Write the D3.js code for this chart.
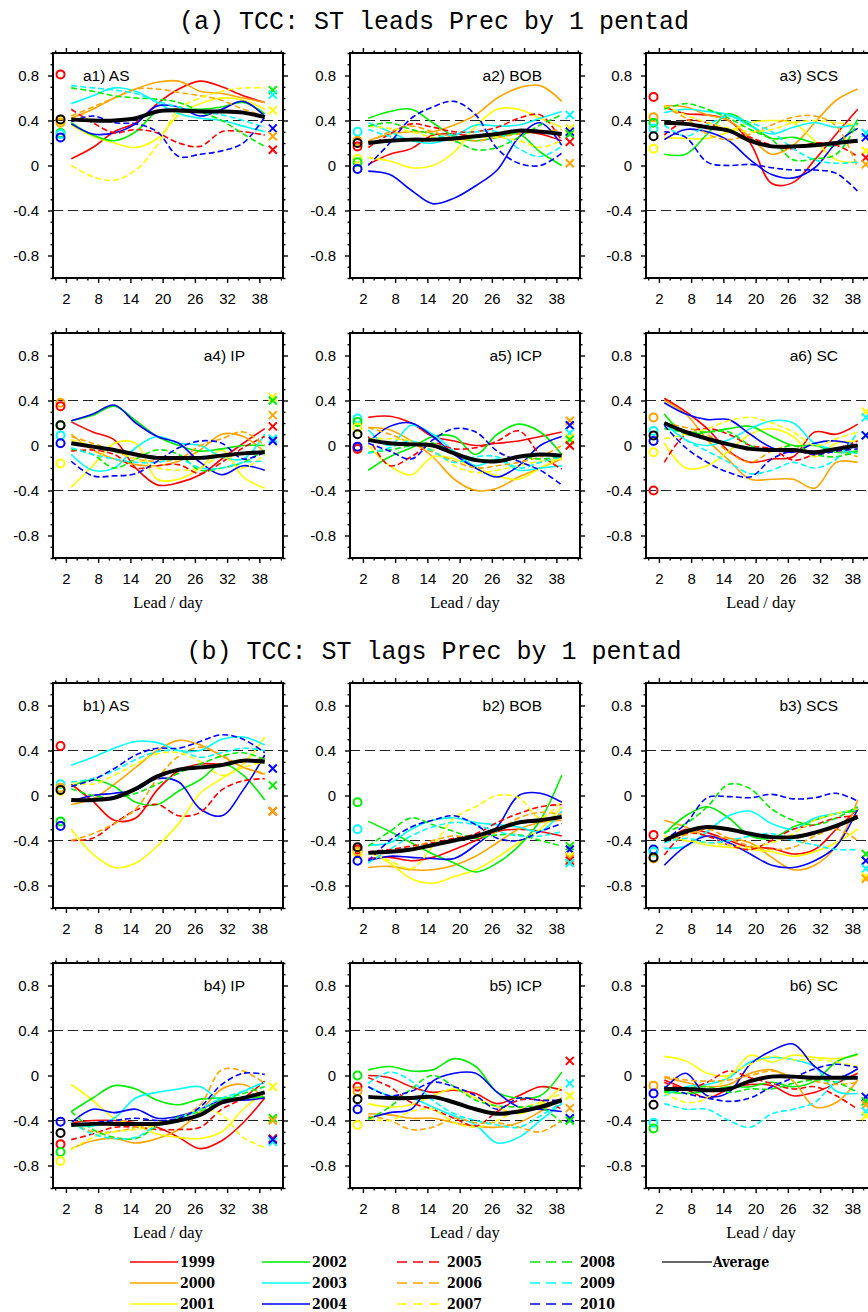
<!DOCTYPE html>
<html>
<head>
<meta charset="utf-8">
<script src="https://cdn.jsdelivr.net/npm/d3@7"></script>
<style>
  body { margin: 0; background: #fff; }
  svg { display: block; }
</style>
</head>
<body>
<svg id="chart" width="868" height="1312"></svg>
<script>
// lead days sampled for every curve
const days = [3, 7, 11, 15, 19, 23, 27, 31, 35, 39];
const years = ['1999', '2000', '2001', '2002', '2003', '2004', '2005', '2006', '2007', '2008', '2009', '2010'];
const hues = ['red', 'orange', 'yellow', 'green', 'cyan', 'blue', 'red', 'orange', 'yellow', 'green', 'cyan', 'blue'];
const circleDay = 1, crossDay = 40.5;

// ---- (a) ST leads Prec ----
const a1 = [
  [0.06, 0.16, 0.3, 0.38, 0.55, 0.68, 0.75, 0.7, 0.62, 0.56],
  [0.42, 0.5, 0.6, 0.68, 0.74, 0.75, 0.66, 0.64, 0.6, 0.56],
  [0.36, 0.26, 0.2, 0.16, 0.24, 0.45, 0.55, 0.6, 0.58, 0.5],
  [0.38, 0.27, 0.22, 0.3, 0.48, 0.5, 0.5, 0.52, 0.56, 0.46],
  [0.55, 0.62, 0.69, 0.66, 0.56, 0.46, 0.42, 0.4, 0.35, 0.3],
  [0.37, 0.28, 0.29, 0.37, 0.53, 0.52, 0.44, 0.5, 0.57, 0.44],
  [0.5, 0.38, 0.29, 0.32, 0.29, 0.2, 0.17, 0.3, 0.3, 0.27],
  [0.44, 0.52, 0.6, 0.68, 0.68, 0.65, 0.62, 0.58, 0.5, 0.44],
  [0.0, -0.1, -0.13, -0.04, 0.18, 0.5, 0.6, 0.66, 0.69, 0.69],
  [0.69, 0.66, 0.62, 0.6, 0.59, 0.56, 0.48, 0.4, 0.28, 0.17],
  [0.71, 0.69, 0.67, 0.64, 0.57, 0.52, 0.48, 0.45, 0.4, 0.34],
  [0.39, 0.44, 0.38, 0.37, 0.3, 0.08, 0.1, 0.13, 0.2, 0.43]
];
const a1Avg = [0.41, 0.4, 0.4, 0.42, 0.48, 0.49, 0.48, 0.48, 0.47, 0.43];
const a1Circles = [['red', 0.81], ['yellow', 0.4], ['orange', 0.38], ['green', 0.29], ['cyan', 0.28], ['blue', 0.25], ['black', 0.41]];
const a1Crosses = [['green', 0.67], ['cyan', 0.63], ['yellow', 0.49], ['blue', 0.33], ['orange', 0.26], ['red', 0.14]];

const a2 = [
  [0.01, 0.1, 0.15, 0.27, 0.28, 0.26, 0.28, 0.3, 0.28, 0.22],
  [0.22, 0.28, 0.3, 0.3, 0.36, 0.45, 0.6, 0.69, 0.71, 0.57],
  [0.07, 0.04, -0.02, 0.0, 0.12, 0.35, 0.5, 0.5, 0.42, 0.34],
  [0.42, 0.48, 0.5, 0.38, 0.26, 0.22, 0.25, 0.28, 0.12, 0.0],
  [0.38, 0.3, 0.22, 0.2, 0.26, 0.36, 0.35, 0.36, 0.42, 0.48],
  [-0.05, -0.08, -0.22, -0.34, -0.29, -0.18, -0.04, 0.25, 0.38, 0.18],
  [0.16, 0.28, 0.37, 0.34, 0.3, 0.3, 0.34, 0.42, 0.45, 0.22],
  [0.2, 0.3, 0.35, 0.3, 0.25, 0.22, 0.25, 0.28, 0.3, 0.32],
  [0.35, 0.33, 0.3, 0.25, 0.22, 0.25, 0.25, 0.22, 0.16, 0.22],
  [0.35, 0.38, 0.32, 0.28, 0.22, 0.14, 0.16, 0.25, 0.36, 0.45],
  [0.32, 0.26, 0.22, 0.24, 0.28, 0.3, 0.3, 0.15, 0.08, 0.17],
  [0.0, 0.2, 0.42, 0.52, 0.57, 0.45, 0.15, 0.02, 0.0, 0.11]
];
const a2Avg = [0.2, 0.22, 0.23, 0.23, 0.24, 0.26, 0.28, 0.31, 0.3, 0.28];
const a2Circles = [['cyan', 0.3], ['orange', 0.22], ['red', 0.17], ['yellow', 0.06], ['green', 0.03], ['blue', -0.03], ['black', 0.2]];
const a2Crosses = [['cyan', 0.45], ['yellow', 0.33], ['blue', 0.3], ['green', 0.28], ['red', 0.21], ['orange', 0.02]];

const a3 = [
  [0.52, 0.46, 0.45, 0.4, 0.2, -0.16, -0.15, 0.05, 0.28, 0.5],
  [0.53, 0.52, 0.45, 0.4, 0.25, 0.1, 0.18, 0.38, 0.58, 0.68],
  [0.25, 0.24, 0.24, 0.3, 0.38, 0.4, 0.38, 0.22, 0.05, 0.03],
  [0.1, 0.1, 0.28, 0.46, 0.36, 0.24, 0.25, 0.2, 0.18, 0.41],
  [0.47, 0.5, 0.48, 0.45, 0.35, 0.28, 0.34, 0.38, 0.34, 0.37],
  [0.23, 0.32, 0.3, 0.22, 0.05, -0.08, -0.11, -0.02, 0.2, 0.33],
  [0.27, 0.4, 0.38, 0.3, 0.25, 0.18, 0.15, 0.2, 0.18, 0.08],
  [0.52, 0.42, 0.28, 0.23, 0.28, 0.36, 0.43, 0.44, 0.35, -0.02],
  [0.53, 0.45, 0.38, 0.33, 0.3, 0.32, 0.38, 0.4, 0.38, 0.36],
  [0.5, 0.55, 0.5, 0.42, 0.32, 0.23, 0.05, 0.06, 0.1, 0.38],
  [0.36, 0.26, 0.36, 0.44, 0.38, 0.3, 0.15, 0.05, 0.02, 0.03],
  [0.3, 0.25, 0.03, 0.0, 0.01, -0.02, -0.04, -0.04, -0.07, -0.23]
];
const a3Avg = [0.38, 0.37, 0.34, 0.31, 0.22, 0.17, 0.17, 0.18, 0.2, 0.22];
const a3Circles = [['red', 0.61], ['orange', 0.43], ['green', 0.38], ['cyan', 0.33], ['yellow', 0.15], ['black', 0.26]];
const a3Crosses = [['cyan', 0.29], ['blue', 0.25], ['yellow', 0.13], ['red', 0.07], ['orange', 0.01]];

const a4 = [
  [0.21, 0.12, 0.05, -0.2, -0.35, -0.33, -0.26, -0.12, 0.02, 0.15],
  [0.1, -0.04, -0.12, -0.17, -0.18, -0.14, -0.04, 0.1, 0.08, -0.06],
  [-0.37, -0.18, 0.02, 0.02, -0.3, -0.3, -0.2, -0.04, -0.28, -0.38],
  [0.22, 0.27, 0.35, 0.22, 0.08, 0.0, -0.05, -0.03, 0.0, 0.0],
  [-0.08, -0.22, -0.2, -0.02, 0.08, 0.02, 0.0, -0.1, -0.12, 0.1],
  [0.22, 0.28, 0.36, 0.2, 0.08, 0.02, -0.15, -0.26, -0.18, -0.22],
  [-0.05, -0.04, -0.08, -0.2, -0.18, -0.17, -0.25, -0.15, -0.02, 0.08],
  [0.08, 0.02, -0.05, -0.12, -0.14, -0.12, 0.0, 0.06, 0.12, 0.0],
  [0.05, 0.0, -0.05, -0.12, -0.2, -0.22, -0.2, -0.1, -0.2, -0.08],
  [-0.03, -0.08, -0.2, -0.12, -0.04, -0.08, -0.22, -0.2, -0.15, -0.04],
  [-0.02, -0.08, -0.12, -0.15, -0.15, -0.12, -0.2, -0.2, -0.15, -0.14],
  [-0.14, -0.27, -0.27, -0.25, -0.14, -0.02, 0.04, 0.02, -0.12, -0.06]
];
const a4Avg = [0.02, -0.01, -0.04, -0.08, -0.11, -0.11, -0.11, -0.09, -0.07, -0.06];
const a4Circles = [['orange', 0.38], ['red', 0.35], ['green', 0.18], ['cyan', 0.09], ['blue', 0.02], ['yellow', -0.16], ['black', 0.18]];
const a4Crosses = [['yellow', 0.43], ['green', 0.4], ['orange', 0.27], ['red', 0.17], ['cyan', 0.06], ['blue', 0.04]];

const a5 = [
  [0.25, 0.26, 0.2, 0.08, 0.04, 0.0, 0.02, 0.04, 0.08, 0.12],
  [0.16, 0.14, 0.04, -0.1, -0.3, -0.4, -0.38, -0.28, -0.2, -0.12],
  [0.0, -0.18, -0.26, -0.1, -0.12, -0.2, -0.27, -0.3, -0.2, -0.1],
  [-0.22, -0.1, -0.02, 0.08, 0.08, -0.08, 0.1, 0.19, 0.12, -0.08],
  [0.14, 0.0, 0.18, 0.1, -0.05, -0.18, -0.12, -0.22, -0.2, -0.18],
  [0.03, 0.17, 0.2, 0.08, -0.08, -0.2, -0.28, -0.18, 0.0, 0.08],
  [0.08, -0.18, -0.1, 0.02, -0.03, -0.02, 0.04, 0.13, -0.08, -0.21],
  [0.16, 0.1, 0.02, -0.06, -0.14, -0.2, -0.18, -0.15, -0.1, 0.0],
  [0.06, 0.06, 0.04, -0.04, -0.18, -0.24, -0.22, -0.18, -0.14, -0.12],
  [-0.06, -0.04, 0.0, 0.02, -0.06, -0.12, -0.13, -0.1, -0.12, -0.1],
  [-0.07, -0.02, 0.04, -0.05, -0.15, -0.1, -0.1, -0.2, -0.15, -0.1],
  [0.02, -0.05, -0.12, 0.05, 0.15, 0.12, -0.05, -0.14, -0.22, -0.35]
];
const a5Avg = [0.05, 0.02, 0.01, 0.0, -0.07, -0.13, -0.14, -0.1, -0.08, -0.09];
const a5Circles = [['cyan', 0.24], ['green', 0.21], ['yellow', 0.16], ['orange', -0.02], ['red', -0.03], ['blue', -0.01], ['black', 0.1]];
const a5Crosses = [['orange', 0.22], ['blue', 0.18], ['cyan', 0.11], ['yellow', 0.07], ['green', 0.05], ['red', 0.0]];

const a6 = [
  [0.42, 0.3, 0.15, -0.05, -0.15, -0.12, -0.1, 0.12, 0.1, 0.19],
  [0.4, 0.28, 0.05, -0.13, -0.3, -0.3, -0.3, -0.38, -0.15, -0.15],
  [0.02, -0.2, -0.18, -0.05, 0.1, 0.15, 0.08, -0.1, 0.02, 0.04],
  [0.28, 0.1, 0.12, 0.15, 0.17, 0.08, 0.0, 0.0, -0.06, -0.05],
  [0.2, 0.05, 0.0, 0.05, 0.15, 0.22, 0.2, 0.02, -0.04, -0.07],
  [0.38, 0.28, 0.23, 0.23, 0.1, -0.02, -0.06, 0.02, 0.04, 0.0],
  [-0.15, 0.1, 0.15, 0.1, 0.0, -0.03, -0.13, -0.08, -0.03, 0.04],
  [0.2, 0.16, 0.1, -0.06, -0.15, -0.05, 0.0, -0.08, -0.05, -0.1],
  [0.06, 0.1, 0.15, 0.22, 0.25, 0.2, 0.12, 0.0, 0.06, 0.12],
  [0.15, 0.12, 0.12, 0.12, 0.0, -0.05, 0.0, -0.08, -0.1, -0.05],
  [0.2, 0.05, -0.05, -0.15, -0.25, -0.22, -0.15, -0.2, -0.12, 0.12],
  [0.18, -0.02, -0.15, -0.24, -0.28, -0.12, -0.05, -0.08, -0.05, -0.03]
];
const a6Avg = [0.2, 0.12, 0.06, 0.01, -0.03, -0.04, -0.04, -0.06, -0.03, 0.0];
const a6Circles = [['orange', 0.25], ['cyan', 0.13], ['blue', 0.04], ['yellow', -0.06], ['red', -0.4], ['black', 0.09]];
const a6Crosses = [['yellow', 0.3], ['cyan', 0.25], ['green', 0.09], ['blue', 0.09]];

// ---- (b) ST lags Prec ----
const b1 = [
  [0.1, -0.05, -0.22, -0.2, 0.05, 0.22, 0.28, 0.28, 0.3, 0.33],
  [-0.08, -0.03, 0.1, 0.25, 0.4, 0.49, 0.45, 0.35, 0.25, 0.19],
  [-0.3, -0.52, -0.64, -0.6, -0.45, -0.25, 0.02, 0.15, 0.28, 0.52],
  [0.08, 0.14, 0.08, -0.06, -0.08, 0.04, 0.14, 0.28, 0.18, -0.04],
  [0.27, 0.34, 0.42, 0.48, 0.47, 0.4, 0.4, 0.5, 0.52, 0.45],
  [-0.05, 0.0, 0.02, 0.05, 0.15, 0.12, -0.12, -0.18, 0.05, 0.36],
  [-0.4, -0.38, -0.25, -0.13, -0.08, -0.18, -0.15, 0.05, 0.13, 0.15],
  [-0.4, -0.34, -0.25, -0.12, 0.15, 0.35, 0.43, 0.36, 0.25, 0.2],
  [0.12, 0.1, 0.18, 0.28, 0.37, 0.38, 0.3, 0.18, 0.25, 0.3],
  [0.06, 0.0, -0.02, 0.02, 0.1, 0.2, 0.28, 0.35, 0.38, 0.32],
  [0.12, 0.15, 0.22, 0.32, 0.39, 0.4, 0.34, 0.38, 0.42, 0.4],
  [0.08, 0.14, 0.24, 0.36, 0.42, 0.42, 0.48, 0.54, 0.5, 0.38]
];
const b1Avg = [-0.04, -0.04, -0.02, 0.06, 0.17, 0.23, 0.25, 0.27, 0.31, 0.3];
const b1Circles = [['red', 0.44], ['cyan', 0.1], ['orange', 0.07], ['yellow', 0.04], ['green', -0.23], ['blue', -0.27], ['black', 0.05]];
const b1Crosses = [['blue', 0.24], ['green', 0.09], ['red', -0.14], ['orange', -0.14]];

const b2 = [
  [-0.56, -0.55, -0.58, -0.55, -0.48, -0.4, -0.32, -0.3, -0.32, -0.36],
  [-0.64, -0.63, -0.66, -0.66, -0.62, -0.54, -0.42, -0.3, -0.24, -0.22],
  [-0.5, -0.6, -0.74, -0.78, -0.72, -0.66, -0.55, -0.42, -0.3, -0.1],
  [-0.23, -0.32, -0.42, -0.52, -0.6, -0.68, -0.6, -0.45, -0.22, 0.18],
  [-0.44, -0.42, -0.3, -0.22, -0.2, -0.24, -0.26, -0.28, -0.32, -0.14],
  [-0.58, -0.54, -0.55, -0.56, -0.56, -0.44, -0.28, 0.0, 0.02, -0.06],
  [-0.5, -0.48, -0.45, -0.42, -0.38, -0.34, -0.24, -0.16, -0.1, -0.08],
  [-0.5, -0.5, -0.47, -0.4, -0.36, -0.38, -0.32, -0.2, -0.15, -0.17],
  [-0.5, -0.58, -0.65, -0.45, -0.2, -0.1, 0.0, -0.02, -0.2, -0.05],
  [-0.45, -0.32, -0.2, -0.26, -0.32, -0.38, -0.35, -0.35, -0.4, -0.45],
  [-0.6, -0.48, -0.36, -0.28, -0.24, -0.26, -0.32, -0.36, -0.36, -0.32],
  [-0.58, -0.4, -0.28, -0.22, -0.18, -0.26, -0.38, -0.4, -0.32, -0.25]
];
const b2Avg = [-0.51, -0.5, -0.48, -0.44, -0.4, -0.36, -0.3, -0.24, -0.22, -0.19];
const b2Circles = [['green', -0.06], ['cyan', -0.3], ['red', -0.48], ['orange', -0.5], ['yellow', -0.52], ['blue', -0.58], ['black', -0.46]];
const b2Crosses = [['green', -0.45], ['blue', -0.48], ['yellow', -0.54], ['orange', -0.56], ['red', -0.58], ['cyan', -0.6]];

const b3 = [
  [-0.42, -0.3, -0.33, -0.4, -0.46, -0.47, -0.52, -0.48, -0.3, -0.12],
  [-0.22, -0.28, -0.36, -0.38, -0.42, -0.55, -0.66, -0.62, -0.45, -0.04],
  [-0.36, -0.4, -0.44, -0.46, -0.48, -0.5, -0.54, -0.5, -0.42, -0.3],
  [-0.34, -0.18, -0.1, -0.2, -0.36, -0.38, -0.28, -0.22, -0.16, -0.14],
  [-0.47, -0.45, -0.32, -0.18, -0.14, -0.25, -0.3, -0.2, -0.16, -0.12],
  [-0.62, -0.45, -0.36, -0.42, -0.52, -0.62, -0.64, -0.58, -0.45, -0.12],
  [-0.53, -0.34, -0.36, -0.44, -0.48, -0.4, -0.3, -0.26, -0.2, -0.18],
  [-0.4, -0.35, -0.3, -0.38, -0.45, -0.48, -0.46, -0.36, -0.3, -0.4],
  [-0.38, -0.4, -0.42, -0.44, -0.46, -0.42, -0.34, -0.22, -0.16, -0.12],
  [-0.33, -0.25, -0.1, 0.1, 0.06, -0.12, -0.22, -0.26, -0.2, -0.1],
  [-0.42, -0.38, -0.42, -0.4, -0.36, -0.34, -0.4, -0.44, -0.48, -0.48],
  [-0.4, -0.25, -0.02, -0.01, -0.02, 0.01, -0.03, -0.02, 0.02, -0.05]
];
const b3Avg = [-0.4, -0.32, -0.28, -0.3, -0.34, -0.37, -0.37, -0.33, -0.27, -0.19];
const b3Circles = [['red', -0.35], ['blue', -0.48], ['cyan', -0.5], ['orange', -0.56], ['black', -0.55]];
const b3Crosses = [['green', -0.52], ['blue', -0.58], ['cyan', -0.65], ['yellow', -0.72], ['orange', -0.74]];

const b4 = [
  [-0.42, -0.4, -0.4, -0.42, -0.46, -0.55, -0.65, -0.58, -0.42, -0.2],
  [-0.65, -0.58, -0.56, -0.6, -0.56, -0.48, -0.32, -0.12, -0.08, -0.2],
  [-0.08, -0.22, -0.38, -0.44, -0.52, -0.55, -0.56, -0.5, -0.3, -0.15],
  [-0.32, -0.2, -0.09, -0.12, -0.22, -0.26, -0.21, -0.2, -0.2, -0.19],
  [-0.44, -0.45, -0.38, -0.2, -0.15, -0.12, -0.1, -0.22, -0.14, -0.06],
  [-0.42, -0.3, -0.33, -0.3, -0.38, -0.36, -0.3, -0.22, -0.22, -0.2],
  [-0.57, -0.52, -0.46, -0.46, -0.48, -0.48, -0.46, -0.3, -0.2, -0.05],
  [-0.42, -0.5, -0.5, -0.46, -0.42, -0.38, -0.26, 0.05, 0.04, -0.07],
  [-0.66, -0.55, -0.5, -0.48, -0.44, -0.38, -0.3, -0.35, -0.55, -0.64],
  [-0.32, -0.48, -0.55, -0.56, -0.45, -0.37, -0.32, -0.22, -0.16, -0.1],
  [-0.42, -0.52, -0.56, -0.55, -0.44, -0.38, -0.3, -0.2, -0.14, -0.06],
  [-0.44, -0.42, -0.4, -0.38, -0.4, -0.38, -0.28, -0.08, 0.02, 0.01]
];
const b4Avg = [-0.44, -0.43, -0.43, -0.43, -0.43, -0.4, -0.35, -0.24, -0.2, -0.15];
const b4Circles = [['blue', -0.41], ['red', -0.61], ['green', -0.68], ['yellow', -0.76], ['black', -0.51]];
const b4Crosses = [['yellow', -0.1], ['green', -0.38], ['orange', -0.4], ['red', -0.56], ['cyan', -0.59], ['blue', -0.57]];

const b5 = [
  [0.0, -0.02, -0.1, -0.15, -0.13, -0.16, -0.25, -0.18, -0.1, -0.13],
  [-0.34, -0.35, -0.38, -0.38, -0.42, -0.45, -0.46, -0.42, -0.32, -0.2],
  [-0.25, -0.28, -0.26, -0.18, -0.12, -0.2, -0.28, -0.34, -0.26, -0.1],
  [0.05, 0.08, 0.04, 0.05, 0.15, 0.08, -0.15, -0.2, -0.18, 0.03],
  [-0.1, -0.18, -0.2, -0.28, -0.36, -0.44, -0.6, -0.55, -0.4, -0.25],
  [-0.38, -0.33, -0.3, -0.05, 0.02, 0.02, -0.15, -0.28, -0.3, -0.32],
  [-0.02, -0.1, -0.24, -0.3, -0.38, -0.45, -0.32, -0.22, -0.22, -0.3],
  [-0.36, -0.4, -0.48, -0.46, -0.38, -0.42, -0.42, -0.46, -0.5, -0.4],
  [-0.38, -0.4, -0.32, -0.3, -0.42, -0.46, -0.4, -0.3, -0.24, -0.16],
  [-0.39, -0.28, -0.12, 0.0, -0.1, -0.22, -0.27, -0.28, -0.28, -0.42],
  [-0.07, 0.03, -0.05, -0.22, -0.34, -0.4, -0.44, -0.46, -0.36, -0.24],
  [-0.1, -0.18, -0.14, -0.06, -0.1, -0.18, -0.3, -0.2, -0.22, -0.22]
];
const b5Avg = [-0.19, -0.2, -0.2, -0.19, -0.24, -0.3, -0.34, -0.32, -0.28, -0.22];
const b5Circles = [['green', 0.0], ['red', -0.1], ['orange', -0.14], ['blue', -0.3], ['yellow', -0.44], ['black', -0.21]];
const b5Crosses = [['red', 0.13], ['cyan', -0.07], ['yellow', -0.18], ['orange', -0.29], ['blue', -0.38], ['green', -0.4]];

const b6 = [
  [-0.04, -0.12, -0.2, -0.12, -0.08, -0.09, -0.18, -0.15, -0.07, 0.02],
  [-0.02, -0.06, -0.1, -0.08, 0.02, 0.05, -0.05, -0.28, -0.24, -0.04],
  [0.17, 0.13, 0.02, 0.0, 0.18, 0.12, 0.18, 0.16, 0.15, 0.18],
  [-0.14, -0.16, -0.14, -0.1, -0.1, -0.06, -0.1, -0.05, 0.12, 0.19],
  [-0.18, -0.1, -0.08, -0.02, 0.12, 0.16, 0.14, 0.08, -0.14, -0.16],
  [-0.12, 0.02, -0.18, -0.15, 0.1, 0.22, 0.28, 0.08, -0.02, 0.06],
  [-0.06, -0.12, -0.06, 0.04, -0.02, -0.07, -0.12, -0.1, -0.18, -0.3],
  [-0.01, -0.04, -0.05, -0.04, 0.0, 0.04, -0.01, -0.05, -0.08, -0.06],
  [-0.15, -0.24, -0.2, 0.0, 0.1, 0.17, 0.14, 0.14, 0.12, 0.08],
  [-0.15, -0.12, -0.1, -0.15, -0.12, -0.12, -0.07, -0.04, -0.06, -0.15],
  [-0.25, -0.3, -0.3, -0.4, -0.46, -0.34, -0.3, -0.24, -0.06, -0.02],
  [-0.1, -0.16, -0.2, -0.23, -0.2, -0.1, -0.02, 0.06, 0.1, 0.07]
];
const b6Avg = [-0.12, -0.12, -0.13, -0.12, -0.05, -0.01, -0.01, -0.02, -0.02, -0.02];
const b6Circles = [['orange', -0.09], ['blue', -0.16], ['cyan', -0.42], ['green', -0.47], ['black', -0.26]];
const b6Crosses = [['blue', -0.19], ['green', -0.23], ['orange', -0.26], ['cyan', -0.32], ['yellow', -0.36]];

const yTicks = [-0.8, -0.4, 0, 0.4, 0.8];
const xTicks = [2, 8, 14, 20, 26, 32, 38];

const palette = {
  red: '#ff0000', orange: '#ffa500', yellow: '#ffff00',
  green: '#00ee00', cyan: '#00ffff', blue: '#0000ff', black: '#000000'
};

// panel layout: columns and rows in pixels
const colX = [53, 350, 646];
const rowY = [53, 333, 683, 963];
const W = 230, H = 225;

const panels = [
  {name: 'a1) AS', col: 0, row: 0, series: a1, avg: a1Avg, circles: a1Circles, crosses: a1Crosses},
  {name: 'a2) BOB', col: 1, row: 0, series: a2, avg: a2Avg, circles: a2Circles, crosses: a2Crosses},
  {name: 'a3) SCS', col: 2, row: 0, series: a3, avg: a3Avg, circles: a3Circles, crosses: a3Crosses},
  {name: 'a4) IP', col: 0, row: 1, series: a4, avg: a4Avg, circles: a4Circles, crosses: a4Crosses},
  {name: 'a5) ICP', col: 1, row: 1, series: a5, avg: a5Avg, circles: a5Circles, crosses: a5Crosses},
  {name: 'a6) SC', col: 2, row: 1, series: a6, avg: a6Avg, circles: a6Circles, crosses: a6Crosses},
  {name: 'b1) AS', col: 0, row: 2, series: b1, avg: b1Avg, circles: b1Circles, crosses: b1Crosses},
  {name: 'b2) BOB', col: 1, row: 2, series: b2, avg: b2Avg, circles: b2Circles, crosses: b2Crosses},
  {name: 'b3) SCS', col: 2, row: 2, series: b3, avg: b3Avg, circles: b3Circles, crosses: b3Crosses},
  {name: 'b4) IP', col: 0, row: 3, series: b4, avg: b4Avg, circles: b4Circles, crosses: b4Crosses},
  {name: 'b5) ICP', col: 1, row: 3, series: b5, avg: b5Avg, circles: b5Circles, crosses: b5Crosses},
  {name: 'b6) SC', col: 2, row: 3, series: b6, avg: b6Avg, circles: b6Circles, crosses: b6Crosses}
];

const svg = d3.select('#chart');

const x = d3.scaleLinear().domain([-0.4, 42.4]).range([0, W]);
const y = d3.scaleLinear().domain([-1, 1]).range([H, 0]);

const line = d3.line()
  .x((d, i) => x(days[i]))
  .y(d => y(d))
  .curve(d3.curveCatmullRom.alpha(0.5));

const minorY = d3.range(-10, 11).map(i => i / 10).filter(v => !yTicks.includes(v));
const minorX = d3.range(0, 43, 2).filter(v => !xTicks.includes(v));
const fmt = d => String(d);

function drawPanel(p) {
  const g = svg.append('g')
    .attr('transform', `translate(${colX[p.col]},${rowY[p.row]})`);

  // outward ticks on all four sides
  const sides = [
    [d3.axisLeft(y), 0, 0, true],
    [d3.axisRight(y), W, 0, false],
  ];
  sides.forEach(([axis, tx, ty, labels]) => {
    g.append('g').attr('transform', `translate(${tx},${ty})`)
      .call(axis.tickValues(yTicks).tickSize(5).tickPadding(9)
        .tickFormat(labels ? fmt : ''));
    g.append('g').attr('transform', `translate(${tx},${ty})`)
      .call(axis.tickValues(minorY).tickSize(2.5).tickFormat(''));
  });
  const xs = [
    [d3.axisBottom(x), 0, H, true],
    [d3.axisTop(x), 0, 0, false]
  ];
  xs.forEach(([axis, tx, ty, labels]) => {
    g.append('g').attr('transform', `translate(${tx},${ty})`)
      .call(axis.tickValues(xTicks).tickSize(5).tickPadding(10)
        .tickFormat(labels ? fmt : ''));
    g.append('g').attr('transform', `translate(${tx},${ty})`)
      .call(axis.tickValues(minorX).tickSize(2.5).tickFormat(''));
  });
  g.selectAll('.domain').remove();
  g.selectAll('.tick line').attr('stroke', '#000').attr('stroke-width', 1.4);
  g.selectAll('.tick text')
    .attr('font-family', '"Liberation Sans", Arial, sans-serif')
    .attr('font-size', 15)
    .attr('fill', '#000');

  // reference lines at +/-0.4
  g.selectAll('.ref').data([0.4, -0.4]).enter().append('line')
    .attr('x1', 0).attr('x2', W)
    .attr('y1', d => y(d)).attr('y2', d => y(d))
    .attr('stroke', '#222').attr('stroke-width', 1.1)
    .attr('stroke-dasharray', '10,5');

  // yearly curves
  g.selectAll('.yr').data(p.series).enter().append('path')
    .attr('d', line)
    .attr('fill', 'none')
    .attr('stroke', (d, i) => palette[hues[i]])
    .attr('stroke-width', 1.6)
    .attr('stroke-dasharray', (d, i) => i >= 6 ? '6,3' : null);

  // average curve
  g.append('path')
    .attr('d', line(p.avg))
    .attr('fill', 'none')
    .attr('stroke', '#000')
    .attr('stroke-width', 4);

  // open circles at the left edge
  g.selectAll('.circ').data(p.circles).enter().append('circle')
    .attr('cx', x(circleDay))
    .attr('cy', d => y(d[1]))
    .attr('r', 4)
    .attr('fill', 'none')
    .attr('stroke', d => palette[d[0]])
    .attr('stroke-width', 2);

  // crosses at the right edge
  const s = 4;
  g.selectAll('.crs').data(p.crosses).enter().append('path')
    .attr('d', d => {
      const cx = x(crossDay), cy = y(d[1]);
      return `M${cx - s},${cy - s}L${cx + s},${cy + s}M${cx - s},${cy + s}L${cx + s},${cy - s}`;
    })
    .attr('stroke', d => palette[d[0]])
    .attr('stroke-width', 2);

  // frame
  g.append('rect')
    .attr('width', W).attr('height', H)
    .attr('fill', 'none')
    .attr('stroke', '#000').attr('stroke-width', 2);

  // panel label
  const left = p.name.endsWith('AS');
  g.append('text')
    .attr('x', left ? 30 : 192)
    .attr('y', y(0.8))
    .attr('dy', '0.35em')
    .attr('text-anchor', left ? 'start' : 'end')
    .attr('font-family', '"Liberation Sans", Arial, sans-serif')
    .attr('font-size', 15.5)
    .text(p.name);

  // x-axis title on the lower row of each group
  if (p.row === 1 || p.row === 3) {
    g.append('text')
      .attr('x', W / 2)
      .attr('y', H + 50)
      .attr('text-anchor', 'middle')
      .attr('font-family', '"Liberation Serif", "Times New Roman", serif')
      .attr('font-size', 16.5)
      .text('Lead / day');
  }
}

panels.forEach(drawPanel);

// group titles
const titles = [
  ['(a) TCC: ST leads Prec by 1 pentad', 29],
  ['(b) TCC: ST lags Prec by 1 pentad', 659]
];
svg.selectAll('.title').data(titles).enter().append('text')
  .attr('x', 434)
  .attr('y', d => d[1])
  .attr('text-anchor', 'middle')
  .attr('font-family', '"Liberation Mono", "Courier New", monospace')
  .attr('font-size', 25)
  .text(d => d[0]);

// legend: four columns of three years, then the average
const legendX = [130, 262, 397, 530];
const legendY = [1262, 1283, 1304];
const legend = svg.append('g');
years.forEach((yr, i) => {
  const cx = legendX[Math.floor(i / 3)], cy = legendY[i % 3];
  legend.append('line')
    .attr('x1', cx).attr('x2', cx + 48)
    .attr('y1', cy).attr('y2', cy)
    .attr('stroke', palette[hues[i]])
    .attr('stroke-width', 1.5)
    .attr('stroke-dasharray', i >= 6 ? '10,6' : null);
  legend.append('text')
    .attr('x', cx + 50).attr('y', cy)
    .attr('dy', '0.36em')
    .attr('font-family', '"DejaVu Serif", serif')
    .attr('font-weight', 'bold')
    .attr('font-stretch', 'condensed')
    .attr('font-size', 14)
    .text(yr);
});
legend.append('line')
  .attr('x1', 662).attr('x2', 712)
  .attr('y1', legendY[0]).attr('y2', legendY[0])
  .attr('stroke', '#333').attr('stroke-width', 1.5);
legend.append('text')
  .attr('x', 713).attr('y', legendY[0])
  .attr('dy', '0.36em')
  .attr('font-family', '"DejaVu Serif", serif')
  .attr('font-weight', 'bold')
  .attr('font-stretch', 'condensed')
  .attr('font-size', 14)
  .text('Average');
</script>
</body>
</html>
